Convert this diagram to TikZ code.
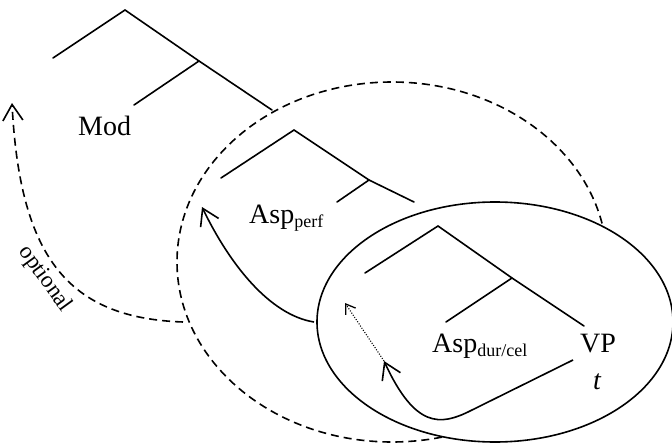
\documentclass[tikz,border=0pt]{standalone}
\usepackage{fontspec}
\setmainfont{Liberation Serif}
\usetikzlibrary{arrows.meta}
\newcommand{\lowsub}[1]{\raisebox{-4pt}{\fontsize{18}{20}\selectfont #1}}
\begin{document}
\begin{tikzpicture}[x=1pt,y=-1pt,
  branch/.style={line width=1.6pt, line cap=round},
  lbl/.style={inner sep=0pt, anchor=base west, font=\fontsize{28}{30}\selectfont},
  dashline/.style={line width=1.6pt, dash pattern=on 8pt off 5pt},
  bigtip/.style={-{Straight Barb[length=16pt,width=20pt,line width=1.6pt]}},
  smalltip/.style={-{Straight Barb[length=9pt,width=12pt,line width=1.3pt]}}
]
\useasboundingbox (0,0) rectangle (672,444);

% dashed ellipse (outer domain)
\draw[dashline] (392,262) ellipse [x radius=215pt, y radius=180pt];
% solid ellipse (inner domain)
\draw[line width=1.6pt, fill=white] (495,322) ellipse [x radius=178pt, y radius=120pt];

% tree 1
\coordinate (t1top) at (125,10);
\coordinate (t1l) at (53,58);
\coordinate (t1m) at (199,61);
\coordinate (t1r) at (272,110);
\coordinate (t1ml) at (134,105);
\draw[branch] (t1l) -- (t1top) -- (t1m) -- (t1r);
\draw[branch] (t1m) -- (t1ml);
\node[lbl] (mod) at (78,135) {Mod};

% tree 2
\coordinate (t2top) at (294,130);
\coordinate (t2l) at (221,178);
\coordinate (t2m) at (369,180);
\coordinate (t2r) at (414,202);
\coordinate (t2ml) at (337,202);
\draw[branch] (t2l) -- (t2top) -- (t2m) -- (t2r);
\draw[branch] (t2m) -- (t2ml);
\node[lbl] (aspperf) at (249,223) {Asp\lowsub{perf}};

% tree 3
\coordinate (t3top) at (438,226);
\coordinate (t3l) at (365,273);
\coordinate (t3m) at (512,278);
\coordinate (t3r) at (584,326);
\coordinate (t3ml) at (446,322);
\draw[branch] (t3l) -- (t3top) -- (t3m) -- (t3r);
\draw[branch] (t3m) -- (t3ml);
\node[lbl] (aspdur) at (432,352) {Asp\lowsub{dur/cel}};
\node[lbl] (vp) at (580,352) {VP};
\node[lbl, font=\fontsize{28}{30}\selectfont\itshape] (trace) at (593,389) {t};

% movement arrows
\coordinate (vpst) at (573,360);
\coordinate (vpbend) at (470,411);
\coordinate (durtip) at (384,361);
\coordinate (dottip) at (345,303);
\coordinate (perfst) at (314,322);
\coordinate (perftip) at (202,207);
\coordinate (optst) at (183,322);
\coordinate (opttip) at (12,103);

\draw[line width=1.6pt, bigtip] (vpst) -- (vpbend) .. controls (440,426) and (415,428) .. (durtip);
\draw[line width=1.1pt, dash pattern=on 1pt off 1.6pt, smalltip] (durtip) -- (dottip);
\draw[line width=1.6pt, bigtip] (perfst) .. controls (270,315) and (230,265) .. (perftip);
\draw[dashline, bigtip] (optst) .. controls (70,318) and (20,260) .. (opttip);
\node[inner sep=0pt, rotate=-54, font=\fontsize{23}{25}\selectfont] (optional) at (45,279) {optional};
\end{tikzpicture}
\end{document}
